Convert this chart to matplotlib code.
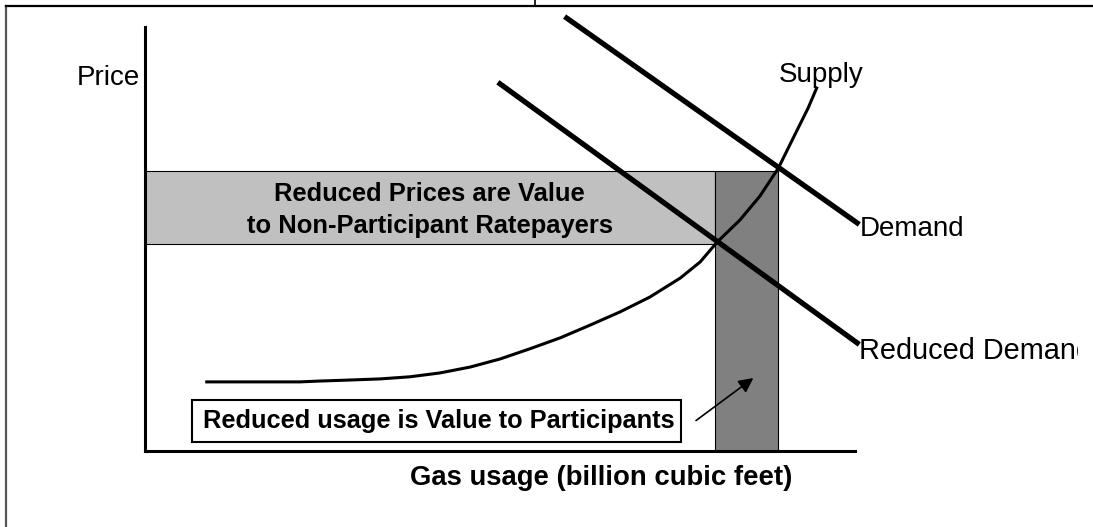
import matplotlib
matplotlib.use("Agg")
import matplotlib.pyplot as plt
from matplotlib.patches import Rectangle
from matplotlib.lines import Line2D
from matplotlib.transforms import Bbox, TransformedBbox

plt.rcParams['font.family'] = ['Liberation Sans', 'DejaVu Sans']

# ---- data (quantity / price, arbitrary units) ----
supply_q = [8.7, 21.8, 24.6, 28.2, 33.1, 37.3, 41.5, 45.8, 50.0, 54.2, 58.5, 62.7,
            66.9, 71.1, 75.4, 78.2, 80.6, 83.8, 86.6, 89.2, 91.5, 93.4, 94.6]
supply_p = [16.3, 16.3, 16.5, 16.7, 17.0, 17.5, 18.4, 19.8, 21.7, 24.1, 26.7, 29.7,
            32.8, 36.3, 40.8, 44.6, 49.3, 54.5, 60.1, 66.7, 74.5, 80.9, 85.6]
demand_q = [59.4, 100.3]
demand_p = [102.1, 53.8]
red_demand_q = [50.0, 100.3]
red_demand_p = [86.6, 25.5]

q_old, p_old = 89.2, 66.0     # supply meets demand
q_new, p_new = 80.3, 48.8     # supply meets reduced demand

fig = plt.figure(figsize=(10.93, 5.27), dpi=100)
# plot area: x 145..855 px, y 451..27 px
ax = fig.add_axes([145/1093, (527-451)/527, 710/1093, 424/527])
ax.set_xlim(0, 100)
ax.set_ylim(0, 100)
for s in ['top', 'right']:
    ax.spines[s].set_visible(False)
for s in ['left', 'bottom']:
    ax.spines[s].set_linewidth(2.2)
ax.set_xticks([])
ax.set_yticks([])
ax.patch.set_alpha(0)

# shaded areas
ax.add_patch(Rectangle((0, p_new), q_new, p_old - p_new, facecolor='#c0c0c0',
                       edgecolor='black', lw=0.8, zorder=1))
ax.add_patch(Rectangle((q_new, 0), q_old - q_new, p_old, facecolor='#808080',
                       edgecolor='black', lw=0.8, zorder=1))

ax.plot(supply_q, supply_p, color='black', lw=2.2, clip_on=False, zorder=3)
ax.plot(demand_q, demand_p, color='black', lw=3.8, clip_on=False, zorder=3)
ax.plot(red_demand_q, red_demand_p, color='black', lw=3.8, clip_on=False, zorder=3)

ax.text(-0.7, 88, 'Price', ha='right', va='center', fontsize=20)
ax.text(89.2, 88.7, 'Supply', ha='left', va='center', fontsize=20)
ax.text(100.6, 52.3, 'Demand', ha='left', va='center', fontsize=20)
rd = ax.text(100.6, 23.5, 'Reduced Demand', ha='left', va='center', fontsize=20.8)
# the original text box cuts the last letter off
rd.set_clip_on(True)
rd.set_clip_path(None)
rd.set_clip_box(TransformedBbox(Bbox([[0, 0], [1078/1093, 1]]), fig.transFigure))

ax.text(40.1, 56.8, 'Reduced Prices are Value\nto Non-Participant Ratepayers',
        ha='center', va='center', fontsize=18.4, fontweight='bold', linespacing=1.45)

ax.add_patch(Rectangle((6.6, 2.1), 68.9, 9.9, facecolor='white', edgecolor='black',
                       lw=1.5, zorder=4))
ax.text(8.2, 7.0, 'Reduced usage is Value to Participants', ha='left', va='center',
        fontsize=18.3, fontweight='bold', zorder=5)
ax.annotate('', xy=(86.0, 17.6), xytext=(77.3, 6.8),
            arrowprops=dict(arrowstyle='-|>', color='black', lw=1.2, mutation_scale=22),
            zorder=5)

ax.text(64.3, -6.4, 'Gas usage (billion cubic feet)', ha='center', va='center',
        fontsize=19.8, fontweight='bold', clip_on=False)

# outer frame
fig.add_artist(Line2D([6/1093, 6/1093], [0, 1 - 6/527], color='#555555', lw=1.6))
fig.add_artist(Line2D([6/1093, 1], [1 - 6/527, 1 - 6/527], color='black', lw=1.6))
fig.add_artist(Line2D([535/1093, 535/1093], [1 - 6/527, 1], color='black', lw=1.2))

fig.savefig('out.png', dpi=100)
